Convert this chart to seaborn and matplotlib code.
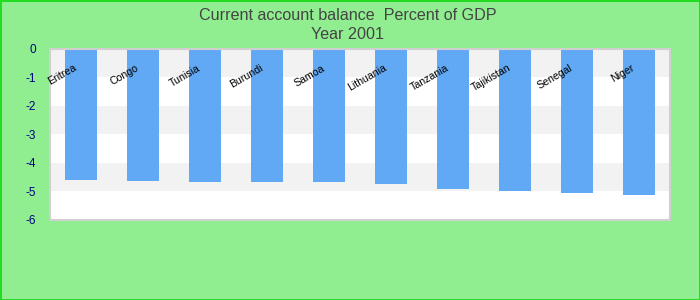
import matplotlib
matplotlib.use("Agg")
import matplotlib.pyplot as plt
import seaborn as sns
import pandas as pd

countries = ["Eritrea", "Congo", "Tunisia", "Burundi", "Samoa", "Lithuania",
             "Tanzania", "Tajikistan", "Senegal", "Niger"]
values = [-4.61, -4.64, -4.68, -4.68, -4.68, -4.75, -4.92, -4.99, -5.06, -5.13]
yticks = [0, -1, -2, -3, -4, -5, -6]
title = "Current account balance  Percent of GDP\nYear 2001"

sns.set_theme(style="white")
plt.rcParams['font.family'] = ['Liberation Sans', 'DejaVu Sans']

df = pd.DataFrame({"country": countries, "value": values})

fig = plt.figure(figsize=(7, 3), dpi=100, facecolor="#90ee90")
fig.patch.set_edgecolor("#22dd22")
fig.patch.set_linewidth(2)
ax = fig.add_axes([50 / 700, 80 / 300, 620 / 700, 171.3 / 300])
ax.set_facecolor("white")

for lo, hi in [(-1, 0), (-3, -2), (-5, -4)]:
    ax.axhspan(lo, hi, color="#f2f2f2", zorder=0, lw=0)

sns.barplot(data=df, x="country", y="value", color="#61a9f4", width=0.52,
            saturation=1, ax=ax, zorder=2, linewidth=0)

ax.set_xlim(-0.5, len(countries) - 0.5)
ax.set_ylim(-6, 0)
ax.set_yticks(yticks)
ax.set_yticklabels([str(t) for t in yticks])
ax.tick_params(axis="y", length=0, pad=10, labelsize=8.5, labelcolor="#000080")
ax.set_xticks([])
ax.set_xlabel("")
ax.set_ylabel("")

for i, name in enumerate(countries):
    ax.text(i - 0.06, -0.74, name, rotation=30, rotation_mode="anchor",
            ha="right", va="baseline", fontsize=7.6, color="black", zorder=3)

for s in ax.spines.values():
    s.set_visible(True)
    s.set_color("#d0d0d0")
    s.set_linewidth(1.5)

fig.text(0.497, 0.975, title, ha="center", va="top", fontsize=11.6,
         color="#444444", linespacing=1.38)

fig.savefig("out.png", dpi=100, facecolor=fig.get_facecolor(),
            edgecolor=fig.get_edgecolor())
